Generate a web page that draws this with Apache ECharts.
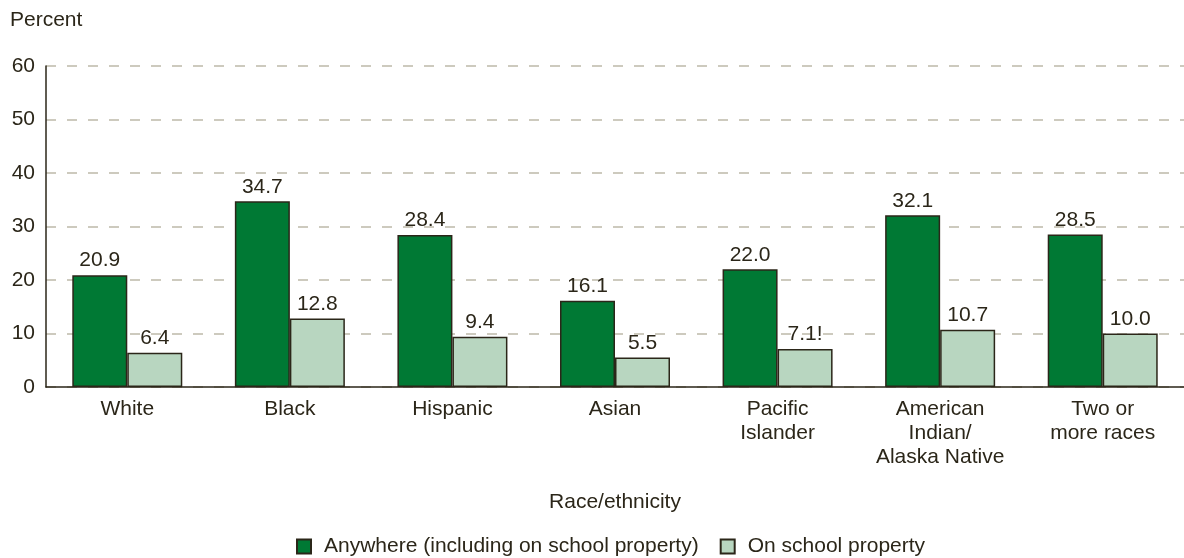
<!DOCTYPE html>
<html>
<head>
<meta charset="utf-8">
<script src="https://cdn.jsdelivr.net/npm/echarts@6/dist/echarts.min.js"></script>
<style>
  html, body { margin: 0; padding: 0; background: #fff; }
  #chart { width: 1184px; height: 558px; }
</style>
</head>
<body>
<div id="chart"></div>
<script>
var categories = ['White', 'Black', 'Hispanic', 'Asian', 'Pacific\nIslander', 'American\nIndian/\nAlaska Native', 'Two or\nmore races'];
var anywhere = [20.9, 34.7, 28.4, 16.1, 22.0, 32.1, 28.5];
var onSchool = [6.4, 12.8, 9.4, 5.5, 7.1, 10.7, 10.0];
var onSchoolLabels = ['6.4', '12.8', '9.4', '5.5', '7.1!', '10.7', '10.0'];
var seriesNames = ['Anywhere (including on school property)', 'On school property'];
var yTicks = [0, 10, 20, 30, 40, 50, 60];

document.addEventListener('DOMContentLoaded', function () {
    var chartDom = document.getElementById('chart');
    var myChart = echarts.init(chartDom);
    var option;

    var textColor = '#2b2619';
    var font = 'Liberation Sans, Arial, sans-serif';
    var fs = 21;

    option = {
        animation: false,
        textStyle: { fontFamily: font, color: textColor },
        title: {
            text: 'Percent',
            left: 5,
            top: 5,
            textStyle: { fontSize: fs, fontWeight: 'normal', color: textColor, fontFamily: font }
        },
        legend: {
            data: seriesNames,
            bottom: -4,
            left: 291,
            itemWidth: 14,
            itemHeight: 14,
            itemGap: 21,
            icon: 'rect',
            textStyle: { fontSize: fs, color: textColor, fontFamily: font, padding: [0, 0, 0, 8] }
        },
        grid: {
            left: 46,
            right: -6,
            top: 66,
            bottom: 171,
            containLabel: false
        },
        xAxis: {
            type: 'category',
            data: categories,
            name: 'Race/ethnicity',
            nameLocation: 'middle',
            nameGap: 105,
            nameTextStyle: { fontSize: fs, color: textColor, fontFamily: font },
            axisLine: { lineStyle: { color: '#2b2619', width: 1.5 } },
            axisTick: { show: false },
            axisLabel: {
                fontSize: fs,
                lineHeight: 24,
                color: textColor,
                margin: 10,
                interval: 0,
                fontFamily: font
            }
        },
        yAxis: {
            type: 'value',
            min: yTicks[0],
            max: yTicks[yTicks.length - 1],
            interval: 10,
            axisLine: { show: true, lineStyle: { color: '#2b2619', width: 1.5 } },
            axisTick: { show: false },
            axisLabel: {
                fontSize: fs,
                color: textColor,
                margin: 11,
                fontFamily: font
            },
            splitLine: {
                show: true,
                lineStyle: { color: '#bdb9a9', type: [10, 11], width: 1.5 }
            }
        },
        series: [
            {
                name: seriesNames[0],
                type: 'bar',
                data: anywhere,
                barWidth: 55,
                barGap: '0%',
                itemStyle: { color: '#007934', borderColor: '#2b2619', borderWidth: 1.5 },
                label: {
                    show: true,
                    position: 'top',
                    distance: 4,
                    fontSize: fs,
                    color: textColor,
                    fontFamily: font,
                    formatter: function (p) { return p.value.toFixed(1); }
                }
            },
            {
                name: seriesNames[1],
                type: 'bar',
                data: onSchool,
                barWidth: 55,
                barGap: '0%',
                itemStyle: { color: '#b8d6c0', borderColor: '#2b2619', borderWidth: 1.5 },
                label: {
                    show: true,
                    position: 'top',
                    distance: 4,
                    fontSize: fs,
                    color: textColor,
                    fontFamily: font,
                    formatter: function (p) { return onSchoolLabels[p.dataIndex]; }
                }
            }
        ]
    };

    option && myChart.setOption(option);
});
</script>
</body>
</html>
